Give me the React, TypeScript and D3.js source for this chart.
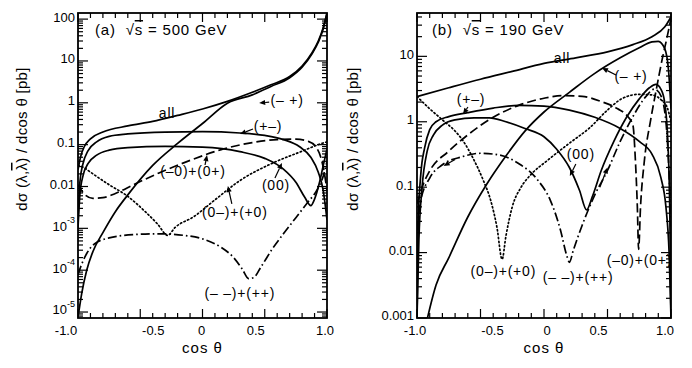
import React from "react";
import * as d3 from "d3";

// ---------- panel (a): sqrt(s) = 500 GeV, dsigma/dcos(theta) in pb ----------
const aAllCos = [-1.0, -0.98, -0.95, -0.9, -0.8, -0.6, -0.4, -0.2, 0.0, 0.2, 0.4, 0.55, 0.7, 0.8, 0.88, 0.93, 0.97, 1.0];
const aAllVal = [0.025, 0.05, 0.089, 0.138, 0.2, 0.28, 0.36, 0.5, 0.71, 1.08, 1.78, 2.69, 4.27, 7.6, 15.8, 30, 63, 141];

const aMPCos = [-1.0, -0.97, -0.93, -0.88, -0.8, -0.7, -0.6, -0.4, -0.2, 0.0, 0.2, 0.4, 0.55, 0.7, 0.8, 0.88, 0.93, 0.97, 1.0];
const aMPVal = [7.4e-6, 2.8e-5, 1.0e-4, 2.8e-4, 7.9e-4, 0.0025, 0.0063, 0.032, 0.107, 0.32, 0.98, 1.55, 2.45, 3.98, 7.1, 14.8, 28, 59, 138];

const aPMCos = [-1.0, -0.985, -0.96, -0.92, -0.85, -0.75, -0.6, -0.3, 0.0, 0.3, 0.5, 0.65, 0.78, 0.87, 0.93, 0.97, 1.0];
const aPMVal = [0.0016, 0.0126, 0.035, 0.071, 0.117, 0.158, 0.18, 0.2, 0.204, 0.19, 0.166, 0.132, 0.089, 0.05, 0.022, 0.0079, 0.0016];

const aZZCos = [-1.0, -0.985, -0.96, -0.92, -0.85, -0.75, -0.6, -0.3, 0.0, 0.3, 0.5, 0.65, 0.75, 0.82, 0.87, 0.9, 0.94, 0.97, 1.0];
const aZZVal = [0.001, 0.0063, 0.018, 0.035, 0.056, 0.074, 0.085, 0.091, 0.087, 0.068, 0.047, 0.026, 0.0126, 0.0056, 0.0035, 0.005, 0.0126, 0.032, 0.079];

const aM0Cos = [-1.0, -0.95, -0.88, -0.8, -0.7, -0.55, -0.35, -0.1, 0.15, 0.4, 0.6, 0.75, 0.85, 0.91, 0.95, 0.98, 1.0];
const aM0Val = [0.011, 0.0066, 0.0052, 0.0054, 0.0068, 0.0112, 0.021, 0.042, 0.076, 0.112, 0.132, 0.135, 0.12, 0.089, 0.05, 0.02, 0.0079];

const a0MCos = [-1.0, -0.95, -0.9, -0.75, -0.6, -0.46, -0.36, -0.28, -0.22, -0.07, 0.1, 0.3, 0.57, 0.79, 0.95, 1.0];
const a0MVal = [0.032, 0.028, 0.022, 0.011, 0.0058, 0.0025, 0.00126, 0.00068, 0.00105, 0.0019, 0.0048, 0.0138, 0.037, 0.068, 0.105, 0.117];

const aMMCos = [-1.0, -0.97, -0.93, -0.87, -0.75, -0.55, -0.35, -0.15, 0.0, 0.15, 0.25, 0.32, 0.37, 0.41, 0.47, 0.56, 0.65, 0.75, 0.84, 0.92, 0.97, 1.0];
const aMMVal = [7.9e-5, 1.4e-4, 2.5e-4, 4.2e-4, 5.9e-4, 7.1e-4, 7.4e-4, 6.8e-4, 5.6e-4, 3.5e-4, 2.0e-4, 1.05e-4, 6.3e-5, 6.6e-5, 1.2e-4, 3.2e-4, 7.4e-4, 0.0018, 0.004, 0.0083, 0.0178, 0.04];

// ---------- panel (b): sqrt(s) = 190 GeV ----------
const bAllCos = [-1.0, -0.75, -0.5, -0.25, 0.0, 0.25, 0.5, 0.7, 0.85, 0.95, 1.0];
const bAllVal = [2.43, 3.31, 4.47, 5.9, 7.8, 9.5, 11.7, 15.1, 20, 28, 40];

const bMPCos = [-0.93, -0.85, -0.75, -0.6, -0.45, -0.3, -0.15, 0.0, 0.2, 0.4, 0.6, 0.75, 0.85, 0.9, 0.95, 0.98, 1.0];
const bMPVal = [0.00079, 0.0032, 0.0083, 0.035, 0.112, 0.3, 0.72, 1.41, 2.82, 5.5, 9.5, 13.5, 16.6, 17, 13.2, 6.3, 1.58];

const bPMCos = [-1.0, -0.99, -0.97, -0.94, -0.9, -0.85, -0.75, -0.6, -0.4, -0.2, 0.0, 0.2, 0.4, 0.6, 0.75, 0.85, 0.92, 0.96, 0.985, 1.0];
const bPMVal = [0.001, 0.032, 0.158, 0.4, 0.76, 1.0, 1.2, 1.38, 1.62, 1.78, 1.74, 1.51, 1.17, 0.79, 0.5, 0.32, 0.141, 0.05, 0.01, 0.001];

const bZZCos = [-1.0, -0.985, -0.96, -0.92, -0.87, -0.8, -0.7, -0.55, -0.43, -0.3, -0.15, 0.0, 0.1, 0.2, 0.28, 0.335, 0.38, 0.45, 0.55, 0.65, 0.75, 0.83, 0.88, 0.92, 0.95, 0.975, 0.99, 1.0];
const bZZVal = [0.001, 0.0158, 0.1, 0.355, 0.63, 0.89, 1.07, 1.15, 1.15, 1.0, 0.79, 0.59, 0.38, 0.2, 0.089, 0.045, 0.071, 0.178, 0.5, 1.17, 2.24, 3.31, 3.72, 3.16, 2.0, 0.5, 0.05, 0.001];

const bM0Cos = [-1.0, -0.95, -0.9, -0.75, -0.6, -0.4, -0.2, 0.0, 0.15, 0.3, 0.45, 0.58, 0.66, 0.7, 0.72, 0.735, 0.745, 0.76, 0.79, 0.84, 0.88, 0.93, 0.97, 1.0];
const bM0Val = [0.056, 0.112, 0.178, 0.355, 0.63, 1.17, 1.78, 2.29, 2.51, 2.45, 2.04, 1.58, 1.2, 0.89, 0.25, 0.05, 0.0112, 0.05, 0.25, 1.07, 2.82, 8.9, 20, 38];

const b0MCos = [-1.0, -0.9, -0.8, -0.7, -0.64, -0.56, -0.48, -0.42, -0.37, -0.33, -0.3, -0.25, -0.18, -0.1, 0.02, 0.2, 0.36, 0.5, 0.62, 0.75, 0.85, 0.93, 0.97, 1.0];
const b0MVal = [2.43, 1.58, 1.07, 0.72, 0.52, 0.28, 0.13, 0.063, 0.024, 0.0079, 0.0178, 0.05, 0.1, 0.158, 0.25, 0.47, 0.81, 1.51, 2.29, 2.63, 2.57, 2.09, 1.66, 1.0];

const bMMCos = [-1.0, -0.97, -0.9, -0.8, -0.65, -0.5, -0.35, -0.2, -0.05, 0.05, 0.13, 0.18, 0.2, 0.23, 0.3, 0.4, 0.5, 0.6, 0.7, 0.8, 0.87, 0.92, 0.96, 0.985, 1.0];
const bMMVal = [0.022, 0.063, 0.138, 0.22, 0.29, 0.33, 0.31, 0.23, 0.129, 0.063, 0.022, 0.0089, 0.0071, 0.0107, 0.026, 0.076, 0.18, 0.5, 1.2, 2.4, 3.16, 2.5, 1.0, 0.158, 0.025];

// ---------- ticks ----------
const xTickVals = [-1, -0.5, 0, 0.5, 1];
const xTickText = ["-1.0", "-0.5", "0", "0.5", "1.0"];
const aYTickVals = [100, 10, 1, 0.1, 0.01, 1e-3, 1e-4, 1e-5];
const aYTickText = ["100", "10", "1", "0.1", "0.01", "10^-3", "10^-4", "10^-5"];
const bYTickVals = [10, 1, 0.1, 0.01, 0.001];
const bYTickText = ["10", "1", "0.1", "0.01", "0.001"];

// ---------- curve labels: text, cos theta, value ----------
const aLabelText = ["all", "(– +)", "(+–)", "(–0)+(0+)", "(00)", "(0–)+(+0)", "(– –)+(++)"];
const aLabelCos = [-0.285, 0.68, 0.526, -0.076, 0.59, 0.26, 0.3];
const aLabelVal = [0.54, 1.1, 0.264, 0.0222, 0.0103, 0.00233, 2.7e-5];

const bLabelText = ["all", "(– +)", "(+–)", "(00)", "(0–)+(+0)", "(– –)+(++)", "(–0)+(0+)"];
const bLabelCos = [0.142, 0.685, -0.575, 0.29, -0.32, 0.268, 0.752];
const bLabelVal = [9.1, 4.84, 2.15, 0.31, 0.00505, 0.0041, 0.00745];

// small direction marks on curves in panel (b): [tail cos, tail val, head cos, head val]
const bMarks = [
  [-0.7, 0.265, -0.79, 0.21],
  [0.44, 0.1, 0.5, 0.2],
];

const FONT = "'Liberation Sans', Arial, Helvetica, sans-serif";
const DASH = "9 4";
const DOT = "1.3 2.6";
const DASHDOT = "9 3 1.6 3";

type Curve = { c: number[]; v: number[]; dash?: string };
type Arrow = { label: number; t: [number, number]; h: [number, number] };

function minorLogTicks(lo: number, hi: number) {
  const out: number[] = [];
  for (let e = Math.floor(Math.log10(lo)); e <= Math.ceil(Math.log10(hi)); e++) {
    for (let k = 2; k <= 9; k++) {
      const v = k * Math.pow(10, e);
      if (v > lo && v < hi) out.push(v);
    }
  }
  return out;
}

function arrowHead(tx: number, ty: number, hx: number, hy: number, key: string) {
  const ang = Math.atan2(hy - ty, hx - tx);
  const L = 6, Wd = 2.6;
  const bx = hx - L * Math.cos(ang), by = hy - L * Math.sin(ang);
  const pts = [
    [hx, hy],
    [bx + Wd * Math.sin(ang), by - Wd * Math.cos(ang)],
    [bx - Wd * Math.sin(ang), by + Wd * Math.cos(ang)],
  ];
  return (
    <g key={key}>
      <line x1={tx} y1={ty} x2={bx} y2={by} stroke="#000" strokeWidth={1.2} />
      <polygon points={pts.map((q) => q.join(",")).join(" ")} fill="#000" />
    </g>
  );
}

function TickLabel({ x, y, text }: { x: number; y: number; text: string }) {
  if (text.includes("^")) {
    const [base, exp] = text.split("^");
    return (
      <text x={x} y={y} textAnchor="end" dominantBaseline="middle" fontSize={13}>
        {base}
        <tspan fontSize={9} dy={-6}>{exp}</tspan>
      </text>
    );
  }
  return (
    <text x={x} y={y} textAnchor="end" dominantBaseline="middle" fontSize={13}>
      {text}
    </text>
  );
}

function Panel(p: {
  id: string;
  left: number; right: number; top: number; bottom: number;
  yDomain: [number, number];
  curves: Curve[];
  yTickVals: number[]; yTickText: string[];
  xLabelDx: number[];
  labelText: string[]; labelCos: number[]; labelVal: number[];
  arrows: Arrow[];
  marks: number[][];
  energy: string; tag: string; titleX: number;
  yTitleX: number;
}) {
  const x = d3.scaleLinear().domain([-1, 1]).range([p.left, p.right]);
  const y = d3.scaleLog().domain(p.yDomain).range([p.bottom, p.top]);

  const path = (cv: Curve) =>
    d3
      .line<[number, number]>()
      .x((d) => x(d[0]))
      .y((d) => y(d[1]))
      .curve(d3.curveMonotoneX)(cv.c.map((c, i) => [c, cv.v[i]] as [number, number])) || "";

  const minorX = d3.range(-9, 10).map((k) => k / 10).filter((v) => Math.abs(v) !== 0.5 && v !== 0);
  const minorY = minorLogTicks(p.yDomain[0], p.yDomain[1]);
  const cx = (p.left + p.right) / 2;

  return (
    <g>
      <defs>
        <clipPath id={p.id}>
          <rect x={p.left} y={p.top} width={p.right - p.left} height={p.bottom - p.top} />
        </clipPath>
      </defs>
      <g clipPath={`url(#${p.id})`} fill="none" stroke="#000" strokeWidth={1.7}>
        {p.curves.map((cv, i) => (
          <path key={i} d={path(cv)} strokeDasharray={cv.dash} strokeLinecap={cv.dash === DOT ? "round" : "butt"} />
        ))}
      </g>
      {/* frame */}
      <rect x={p.left} y={p.top} width={p.right - p.left} height={p.bottom - p.top} fill="none" stroke="#000" strokeWidth={1.8} />
      {/* ticks, inward on all four sides */}
      <g stroke="#000" strokeWidth={1.2}>
        {xTickVals.map((v) => (
          <g key={"M" + v}>
            <line x1={x(v)} x2={x(v)} y1={p.bottom} y2={p.bottom - 9} />
            <line x1={x(v)} x2={x(v)} y1={p.top} y2={p.top + 9} />
          </g>
        ))}
        {minorX.map((v) => (
          <g key={"m" + v}>
            <line x1={x(v)} x2={x(v)} y1={p.bottom} y2={p.bottom - 5} />
            <line x1={x(v)} x2={x(v)} y1={p.top} y2={p.top + 5} />
          </g>
        ))}
        {p.yTickVals.map((v) => (
          <g key={"Y" + v}>
            <line x1={p.left} x2={p.left + 10} y1={y(v)} y2={y(v)} />
            <line x1={p.right} x2={p.right - 10} y1={y(v)} y2={y(v)} />
          </g>
        ))}
        {minorY.map((v) => (
          <g key={"y" + v}>
            <line x1={p.left} x2={p.left + 5} y1={y(v)} y2={y(v)} />
            <line x1={p.right} x2={p.right - 5} y1={y(v)} y2={y(v)} />
          </g>
        ))}
      </g>
      {/* tick labels */}
      {p.yTickVals.map((v, i) => (
        <TickLabel key={"t" + v} x={p.left - 3} y={y(v) - 1} text={p.yTickText[i]} />
      ))}
      {xTickVals.map((v, i) => (
        <text key={"xt" + v} x={x(v) + p.xLabelDx[i]} y={335} textAnchor="middle" fontSize={13}>
          {xTickText[i]}
        </text>
      ))}
      <text x={cx} y={353} textAnchor="middle" fontSize={15} letterSpacing={1}>
        cos θ
      </text>
      {/* y title */}
      <text
        transform={`translate(${p.yTitleX},139) rotate(-90)`}
        textAnchor="middle"
        dominantBaseline="middle"
        fontSize={15}
        letterSpacing={0.3}
      >
        dσ (λ,<tspan textDecoration="overline">λ</tspan>) / dcos θ  [pb]
      </text>
      {/* panel title */}
      <text x={p.titleX} y={35} fontSize={15} letterSpacing={0.8} style={{ whiteSpace: "pre" }}>
        {p.tag}  √<tspan textDecoration="overline">s</tspan> = {p.energy}
      </text>
      {/* curve labels */}
      {p.labelText.map((t, i) => (
        <text
          key={"l" + i}
          x={x(p.labelCos[i])}
          y={y(p.labelVal[i])}
          textAnchor="middle"
          dominantBaseline="middle"
          fontSize={14}
          letterSpacing={0.8}
        >
          {t}
        </text>
      ))}
      {/* label arrows */}
      {p.arrows.map((a, i) => {
        const lx = x(p.labelCos[a.label]);
        const ly = y(p.labelVal[a.label]);
        return arrowHead(lx + a.t[0], ly + a.t[1], lx + a.h[0], ly + a.h[1], "a" + i);
      })}
      {p.marks.map((m, i) => arrowHead(x(m[0]), y(m[1]), x(m[2]), y(m[3]), "k" + i))}
    </g>
  );
}

export default function App() {
  const aCurves: Curve[] = [
    { c: aAllCos, v: aAllVal },
    { c: aMPCos, v: aMPVal },
    { c: aPMCos, v: aPMVal },
    { c: aZZCos, v: aZZVal },
    { c: aM0Cos, v: aM0Val, dash: DASH },
    { c: a0MCos, v: a0MVal, dash: DOT },
    { c: aMMCos, v: aMMVal, dash: DASHDOT },
  ];
  const bCurves: Curve[] = [
    { c: bAllCos, v: bAllVal },
    { c: bMPCos, v: bMPVal },
    { c: bPMCos, v: bPMVal },
    { c: bZZCos, v: bZZVal },
    { c: bM0Cos, v: bM0Val, dash: DASH },
    { c: b0MCos, v: b0MVal, dash: DOT },
    { c: bMMCos, v: bMMVal, dash: DASHDOT },
  ];
  const aArrows: Arrow[] = [
    { label: 1, t: [-18, 1], h: [-28, 2] },
    { label: 2, t: [-15, 2], h: [-28, 7] },
    { label: 3, t: [12, -7], h: [14, -17] },
    { label: 4, t: [-1, -8], h: [6, -23] },
    { label: 5, t: [-3, -9], h: [-7, -27] },
  ];
  const bArrows: Arrow[] = [
    { label: 1, t: [-15, -2], h: [-29, -9] },
    { label: 2, t: [-3, 7], h: [-8, 14] },
    { label: 3, t: [-5, 9], h: [-11, 21] },
  ];
  return (
    <svg
      width={692}
      height={368}
      viewBox="0 0 692 368"
      style={{ position: "absolute", left: 0, top: 0, background: "#fff" }}
      fontFamily={FONT}
    >
      <rect width={692} height={368} fill="#fff" />
      <Panel
        id="clipA"
        left={78} right={327} top={13} bottom={318}
        yDomain={[7.2e-6, 140]}
        curves={aCurves}
        yTickVals={aYTickVals} yTickText={aYTickText}
        xLabelDx={[-12, 13, -1, -9, -2]}
        labelText={aLabelText} labelCos={aLabelCos} labelVal={aLabelVal}
        arrows={aArrows}
        marks={[]}
        tag="(a)" energy="500 GeV" titleX={95}
        yTitleX={23}
      />
      <Panel
        id="clipB"
        left={417} right={671} top={13} bottom={318}
        yDomain={[0.001, 46]}
        curves={bCurves}
        yTickVals={bYTickVals} yTickText={bYTickText}
        xLabelDx={[-2, 12, 3, -9, -6]}
        labelText={bLabelText} labelCos={bLabelCos} labelVal={bLabelVal}
        arrows={bArrows}
        marks={bMarks}
        tag="(b)" energy="190 GeV" titleX={432}
        yTitleX={354}
      />
    </svg>
  );
}
